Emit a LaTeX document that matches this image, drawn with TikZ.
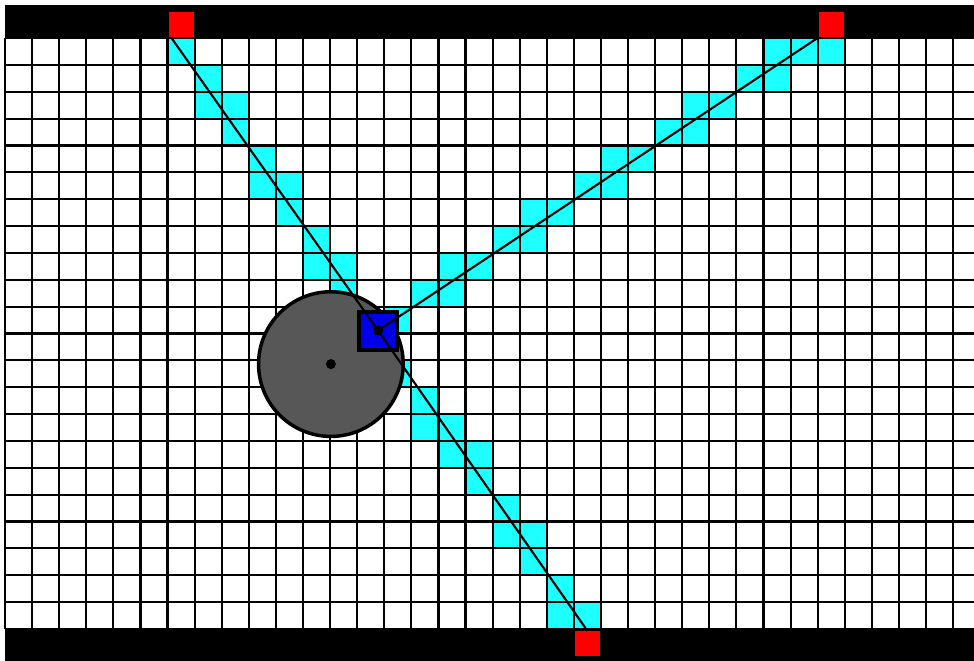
\documentclass[tikz,border=0pt]{standalone}
\usepackage{xcolor}
\usepackage{tikz}
\definecolor{hitcyan}{HTML}{1EFFFF}
\definecolor{beaconred}{HTML}{FF0000}
\definecolor{sensorblue}{HTML}{0000E6}
\definecolor{robotgray}{HTML}{575757}
\begin{document}
\begin{tikzpicture}[
    x=20.3175pt, y=-20.145pt,
    wall/.style={fill=black},
    hit/.style={fill=hitcyan},
    gridline/.style={draw=black, line width=1.6pt},
    beacon/.style={fill=beaconred, minimum size=18.75pt, inner sep=0pt},
    robot/.style={circle, draw=black, fill=robotgray, line width=2.6pt, minimum size=108.5pt, inner sep=0pt},
    sensor/.style={draw=black, fill=sensorblue, line width=3pt, minimum size=28.5pt, inner sep=0pt},
    dot/.style={circle, fill=black, minimum size=7.5pt, inner sep=0pt},
    ray/.style={draw=black, line width=1.6pt}
  ]
    \useasboundingbox (-0.1846,-1.4147) rectangle (35.77,23.194);
    \clip (-0.1846,-1.4147) rectangle (35.77,23.194);
    \fill[wall] (0,-1.2286) rectangle (36,0);
    \fill[wall] (0,22) rectangle (36,24);
    \foreach \c/\r in {6/0,7/1,7/2,8/2,8/3,9/4,9/5,10/5,10/6,11/7,11/8,12/8,12/9,
        14/12,15/13,15/14,16/14,16/15,17/15,17/16,18/17,18/18,19/18,19/19,20/20,20/21,21/21,
        14/10,15/9,16/9,16/8,17/8,18/7,19/7,19/6,20/6,21/5,22/5,22/4,23/4,24/3,25/3,
        25/2,26/2,27/1,28/1,28/0,29/0,30/0}
      \fill[hit] (\c,\r) rectangle ++(1,1);
    \foreach \c in {0,...,36}
      \draw[gridline] (\c,0) -- (\c,22);
    \foreach \r in {0,...,22}
      \draw[gridline] (0,\r) -- (36,\r);
    \node[beacon] (beaconA) at (6.5,-0.5) {};
    \node[beacon] (beaconB) at (30.5,-0.5) {};
    \node[beacon] (beaconC) at (21.5,22.55) {};
    \node[robot] (robot) at (12.03,12.14) {};
    \node[sensor] (sensor) at (13.77,10.89) {};
    \draw[ray] ([xshift=2pt]beaconA.south west) -- (sensor.center) -- (beaconC.north);
    \draw[ray] (sensor.center) -- (beaconB.south west);
    \node[dot] (hub) at (robot.center) {};
    \node[dot] (eye) at (sensor.center) {};
  \end{tikzpicture}
\end{document}
